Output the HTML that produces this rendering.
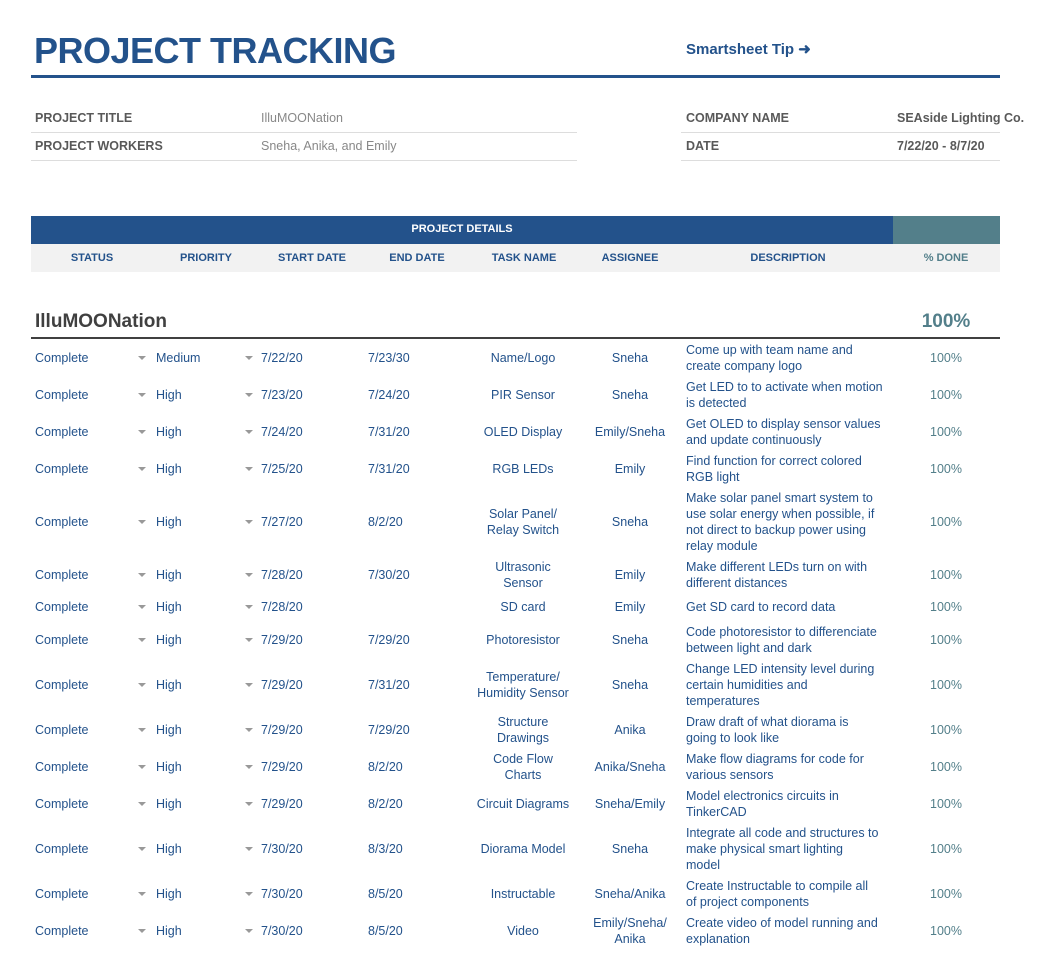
<!DOCTYPE html>
<html><head><meta charset="utf-8"><style>
*{margin:0;padding:0;box-sizing:border-box}
body{width:1056px;height:970px;background:#fff;position:relative;overflow:hidden;font-family:"Liberation Sans",Arial,sans-serif;color:#23528b}
.a{position:absolute;white-space:nowrap}
.lbl{font-size:12.5px;font-weight:bold;color:#595959}
.val{font-size:12.5px;color:#888}
.hd{font-size:11px;font-weight:bold;color:#23528b;text-align:center}
.row{position:absolute;left:0;width:1056px;height:50px;font-size:12.5px;color:#23528b}
.row>div{position:absolute;top:0;height:50px;display:flex;align-items:center;line-height:16px}
.c{justify-content:center;text-align:center}
.tri{width:0;height:0;border-left:4px solid transparent;border-right:4px solid transparent;border-top:4px solid #999}
</style></head><body>
<div class="a" style="left:34px;top:30px;font-size:36px;font-weight:bold;color:#23528b;letter-spacing:-0.5px">PROJECT TRACKING</div>
<div class="a" style="left:686px;top:40px;font-size:15px;font-weight:bold;color:#23528b">Smartsheet Tip ➜</div>
<div class="a" style="left:31px;top:75px;width:969px;height:3px;background:#23528b"></div>

<div class="a lbl" style="left:35px;top:111px">PROJECT TITLE</div>
<div class="a val" style="left:261px;top:111px">IlluMOONation</div>
<div class="a" style="left:31px;top:132px;width:546px;height:1px;background:#ddd"></div>
<div class="a lbl" style="left:35px;top:139px">PROJECT WORKERS</div>
<div class="a val" style="left:261px;top:139px">Sneha, Anika, and Emily</div>
<div class="a" style="left:31px;top:160px;width:546px;height:1px;background:#ddd"></div>

<div class="a lbl" style="left:686px;top:111px">COMPANY NAME</div>
<div class="a lbl" style="left:897px;top:111px">SEAside Lighting Co.</div>
<div class="a" style="left:681px;top:132px;width:319px;height:1px;background:#ddd"></div>
<div class="a lbl" style="left:686px;top:139px">DATE</div>
<div class="a lbl" style="left:897px;top:139px">7/22/20 - 8/7/20</div>
<div class="a" style="left:681px;top:160px;width:319px;height:1px;background:#ddd"></div>

<div class="a" style="left:31px;top:216px;width:862px;height:28px;background:#23528b"></div>
<div class="a" style="left:893px;top:216px;width:107px;height:28px;background:#537f8a"></div>
<div class="a" style="left:31px;top:223px;width:862px;text-align:center;font-size:11px;font-weight:bold;color:#fff">PROJECT DETAILS</div>
<div class="a" style="left:31px;top:244px;width:969px;height:28px;background:#f2f2f2"></div>
<div class="a hd" style="left:42px;top:252px;width:100px">STATUS</div>
<div class="a hd" style="left:156px;top:252px;width:100px">PRIORITY</div>
<div class="a hd" style="left:262px;top:252px;width:100px">START DATE</div>
<div class="a hd" style="left:367px;top:252px;width:100px">END DATE</div>
<div class="a hd" style="left:474px;top:252px;width:100px">TASK NAME</div>
<div class="a hd" style="left:580px;top:252px;width:100px">ASSIGNEE</div>
<div class="a hd" style="left:738px;top:252px;width:100px">DESCRIPTION</div>
<div class="a hd" style="left:896px;top:252px;width:100px;color:#537f8a">% DONE</div>

<div class="a" style="left:35px;top:311px;font-size:19px;font-weight:bold;color:#404040">IlluMOONation</div>
<div class="a" style="left:896px;top:311px;width:100px;text-align:center;font-size:19px;font-weight:bold;color:#537f8a">100%</div>
<div class="a" style="left:31px;top:337px;width:969px;height:2px;background:#404040"></div>

<div id="rows"></div>
<script>
const R=[
[357,"Medium","7/22/20","7/23/30","Name/Logo","Sneha","Come up with team name and<br>create company logo"],
[394,"High","7/23/20","7/24/20","PIR Sensor","Sneha","Get LED to to activate when motion<br>is detected"],
[431,"High","7/24/20","7/31/20","OLED Display","Emily/Sneha","Get OLED to display sensor values<br>and update continuously"],
[468,"High","7/25/20","7/31/20","RGB LEDs","Emily","Find function for correct colored<br>RGB light"],
[521,"High","7/27/20","8/2/20","Solar Panel/<br>Relay Switch","Sneha","Make solar panel smart system to<br>use solar energy when possible, if<br>not direct to backup power using<br>relay module"],
[574,"High","7/28/20","7/30/20","Ultrasonic<br>Sensor","Emily","Make different LEDs turn on with<br>different distances"],
[606,"High","7/28/20","","SD card","Emily","Get SD card to record data"],
[639,"High","7/29/20","7/29/20","Photoresistor","Sneha","Code photoresistor to differenciate<br>between light and dark"],
[684,"High","7/29/20","7/31/20","Temperature/<br>Humidity Sensor","Sneha","Change LED intensity level during<br>certain humidities and<br>temperatures"],
[729,"High","7/29/20","7/29/20","Structure<br>Drawings","Anika","Draw draft of what diorama is<br>going to look like"],
[766,"High","7/29/20","8/2/20","Code Flow<br>Charts","Anika/Sneha","Make flow diagrams for code for<br>various sensors"],
[803,"High","7/29/20","8/2/20","Circuit Diagrams","Sneha/Emily","Model electronics circuits in<br>TinkerCAD"],
[848,"High","7/30/20","8/3/20","Diorama Model","Sneha","Integrate all code and structures to<br>make physical smart lighting<br>model"],
[893,"High","7/30/20","8/5/20","Instructable","Sneha/Anika","Create Instructable to compile all<br>of project components"],
[930,"High","7/30/20","8/5/20","Video","Emily/Sneha/<br>Anika","Create video of model running and<br>explanation"]];
let h="";
for(const r of R){
h+=`<div class="row" style="top:${r[0]-24}px">
<div style="left:35px">Complete</div><div style="left:138px"><span class="tri"></span></div>
<div style="left:156px">${r[1]}</div><div style="left:245px"><span class="tri"></span></div>
<div style="left:261px">${r[2]}</div><div style="left:368px">${r[3]}</div>
<div class="c" style="left:463px;width:120px">${r[4]}</div>
<div class="c" style="left:580px;width:100px">${r[5]}</div>
<div style="left:686px">${r[6]}</div>
<div class="c" style="left:896px;width:100px;color:#537f8a">100%</div></div>`;}
document.getElementById("rows").innerHTML=h;
</script>
</body></html>
